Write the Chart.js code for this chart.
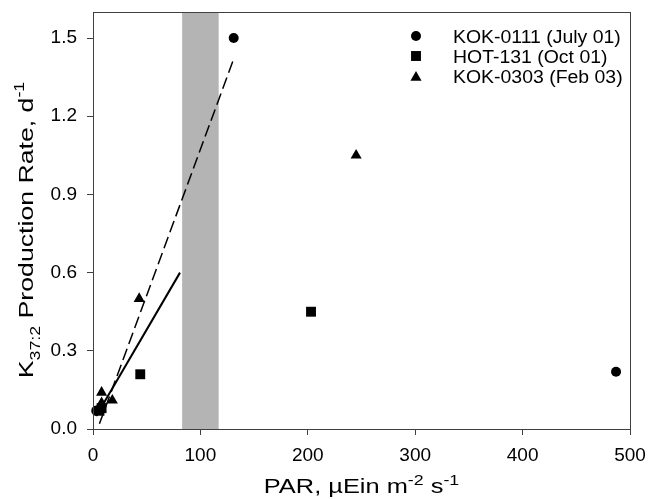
<!DOCTYPE html>
<html>
<head>
<meta charset="utf-8">
<script src="https://cdn.jsdelivr.net/npm/chart.js@4/dist/chart.umd.min.js"></script>
<style>
  html, body { margin: 0; padding: 0; background: #fff; }
  #wrap { width: 650px; height: 499px; }
</style>
</head>
<body>
<div id="wrap"><canvas id="c" width="650" height="499"></canvas></div>
<script>
/* ---- data ---- */
const circleX = [3, 131, 487];            // KOK-0111 (July 01)
const circleY = [0.07, 1.50, 0.22];
const squareX = [6, 8, 44, 203];          // HOT-131 (Oct 01)
const squareY = [0.07, 0.08, 0.21, 0.45];
const triX = [8, 18, 8, 43, 245];         // KOK-0303 (Feb 03)
const triY = [0.14, 0.11, 0.10, 0.50, 1.05];

const dashFitX = [6, 131];
const dashFitY = [0.02, 1.42];
const solidFitX = [3, 81];
const solidFitY = [0.05, 0.60];

const bandX = [83, 117];                  // shaded PAR range

const xTicks = [0, 100, 200, 300, 400, 500];
const yTicks = [0, 0.3, 0.6, 0.9, 1.2, 1.5];

const seriesLabels = ["KOK-0111 (July 01)", "HOT-131 (Oct 01)", "KOK-0303 (Feb 03)"];

const FAM = "'Liberation Sans', Arial, sans-serif";

function pts(xs, ys){
  return xs.map((x, i) => ({ x: x, y: ys[i] }));
}

/* rich text: segments with size + baseline shift, stretched horizontally */
function drawRich(ctx, segs, sx){
  let w = 0;
  segs.forEach(s => { ctx.font = `${s.size}px ${FAM}`; w += ctx.measureText(s.t).width; });
  ctx.scale(sx, 1);
  let x = -w / 2;
  ctx.textAlign = "left";
  ctx.textBaseline = "alphabetic";
  ctx.fillStyle = "#000";
  segs.forEach(s => {
    ctx.font = `${s.size}px ${FAM}`;
    ctx.fillText(s.t, x, s.dy || 0);
    x += ctx.measureText(s.t).width;
  });
}

const decor = {
  id: "decor",
  beforeDatasetsDraw(chart){
    const ctx = chart.ctx, a = chart.chartArea, xs = chart.scales.x;
    const x1 = xs.getPixelForValue(bandX[0]);
    const x2 = xs.getPixelForValue(bandX[1]);
    ctx.save();
    ctx.fillStyle = "#b4b4b4";
    ctx.fillRect(x1, a.top, x2 - x1, a.bottom - a.top);
    ctx.restore();
  },
  afterDraw(chart){
    const ctx = chart.ctx, a = chart.chartArea;

    // frame
    ctx.save();
    ctx.strokeStyle = "#404040";
    ctx.lineWidth = 1;
    ctx.strokeRect(Math.round(a.left) + 0.5, Math.round(a.top) + 0.5,
                   Math.round(a.right - a.left), Math.round(a.bottom - a.top));
    ctx.restore();

    // legend
    const rows = [36, 56, 76];
    chart.data.datasets.slice(0, 3).forEach((ds, i) => {
      ctx.save();
      ctx.fillStyle = "#000";
      ctx.strokeStyle = "#000";
      Chart.helpers.drawPoint(ctx, {
        pointStyle: ds.pointStyle, radius: ds.pointRadius, rotation: 0, borderWidth: 0
      }, 416, rows[i] + (ds.pointStyle === "triangle" ? 1.5 : 0));
      ctx.translate(453, rows[i] + 6.5);
      ctx.scale(1.08, 1);
      ctx.font = `18px ${FAM}`;
      ctx.textAlign = "left";
      ctx.textBaseline = "alphabetic";
      ctx.fillText(ds.label, 0, 0);
      ctx.restore();
    });

    // x title
    ctx.save();
    ctx.translate((a.left + a.right) / 2, 493);
    drawRich(ctx, [
      { t: "PAR, \u00B5Ein m", size: 20 },
      { t: "-2", size: 14, dy: -8 },
      { t: " s", size: 20 },
      { t: "-1", size: 14, dy: -8 }
    ], 1.27);
    ctx.restore();

    // y title
    ctx.save();
    ctx.translate(33, 230);
    ctx.rotate(-Math.PI / 2);
    drawRich(ctx, [
      { t: "K", size: 21 },
      { t: "37:2", size: 14, dy: 7 },
      { t: " Production Rate, d", size: 21 },
      { t: "-1", size: 14, dy: -9 }
    ], 1.27);
    ctx.restore();
  }
};

Chart.defaults.font.family = FAM;
Chart.defaults.color = "#000";

new Chart(document.getElementById("c").getContext("2d"), {
  data: {
    datasets: [
      {
        type: "scatter", label: seriesLabels[0], data: pts(circleX, circleY),
        pointStyle: "circle", pointRadius: 5, backgroundColor: "#000",
        borderWidth: 0, clip: false
      },
      {
        type: "scatter", label: seriesLabels[1], data: pts(squareX, squareY),
        pointStyle: "rect", pointRadius: 7, backgroundColor: "#000",
        borderWidth: 0, clip: false
      },
      {
        type: "scatter", label: seriesLabels[2], data: pts(triX, triY),
        pointStyle: "triangle", pointRadius: 6.4, backgroundColor: "#000",
        borderWidth: 0, clip: false
      },
      {
        type: "line", label: "dash fit", data: pts(dashFitX, dashFitY),
        borderColor: "#000", borderWidth: 1.5, borderDash: [12, 5],
        pointRadius: 0, fill: false
      },
      {
        type: "line", label: "solid fit", data: pts(solidFitX, solidFitY),
        borderColor: "#000", borderWidth: 2, pointRadius: 0, fill: false
      }
    ]
  },
  options: {
    responsive: false,
    animation: false,
    devicePixelRatio: 1,
    layout: { padding: { top: 12, right: 20, left: 0, bottom: 0 } },
    plugins: {
      legend: { display: false },
      tooltip: { enabled: false }
    },
    scales: {
      x: {
        type: "linear", min: 0, max: 500,
        afterBuildTicks: s => { s.ticks = xTicks.map(v => ({ value: v })); },
        afterFit: s => { s.height = 70; s.paddingLeft = 0; s.paddingRight = 0; },
        grid: { drawOnChartArea: false, drawTicks: true, tickLength: 6, color: "#404040" },
        border: { display: false },
        ticks: { padding: 9, font: { size: 19 }, color: "#000", maxRotation: 0 }
      },
      y: {
        type: "linear", min: 0, max: 1.6,
        afterBuildTicks: s => { s.ticks = yTicks.map(v => ({ value: v })); },
        afterFit: s => { s.width = 93; s.paddingTop = 0; s.paddingBottom = 0; },
        grid: { drawOnChartArea: false, drawTicks: true, tickLength: 6, color: "#404040" },
        border: { display: false },
        ticks: { padding: 10, font: { size: 19 }, color: "#000",
                 callback: v => Number(v).toFixed(1) }
      }
    }
  },
  plugins: [decor]
});
</script>
</body>
</html>
